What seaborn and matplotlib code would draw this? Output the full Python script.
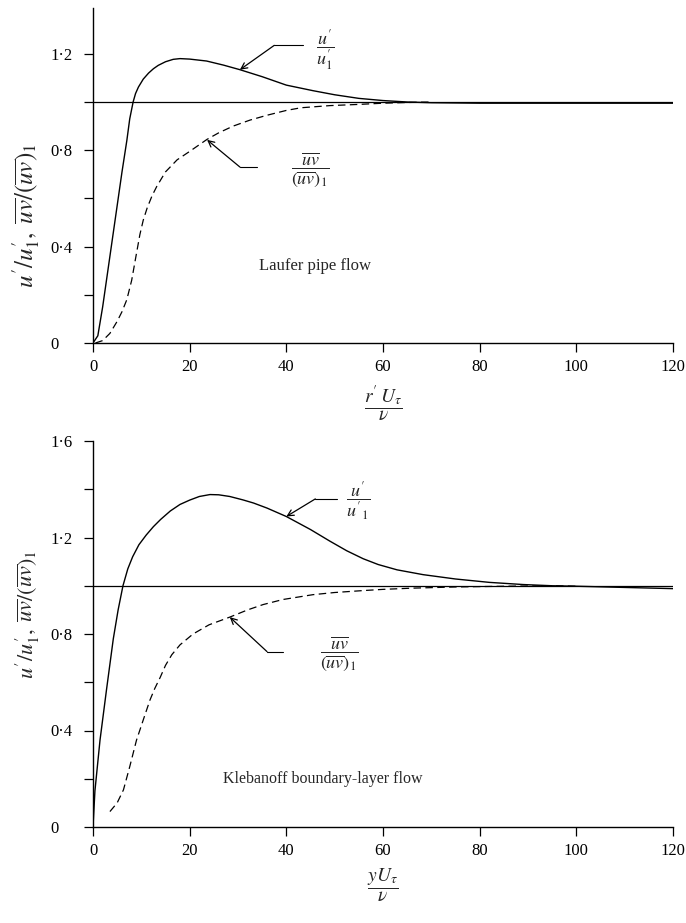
import numpy as np
import pandas as pd
import matplotlib
matplotlib.use("Agg")
import matplotlib.pyplot as plt
import seaborn as sns
from matplotlib.ticker import FixedLocator, FuncFormatter

# ---------------- data ----------------
# Laufer pipe flow (top panel)
x_u_top = [0, 1, 2, 3, 4, 5, 6, 7, 7.6, 8.3, 8.8, 9.4, 10.4, 11.5, 12.5, 13.5, 15, 16.6,
           18, 20, 23.5, 27, 30.4, 35, 40, 45.5, 50, 55, 60, 65, 70, 80, 90, 100, 110, 120]
y_u_top = [0, 0.03, 0.15, 0.29, 0.43, 0.57, 0.71, 0.84, 0.93, 1.0, 1.035, 1.062, 1.095,
           1.12, 1.138, 1.152, 1.167, 1.177, 1.18, 1.178, 1.17, 1.153, 1.134, 1.105, 1.07,
           1.047, 1.03, 1.015, 1.006, 1.0, 0.997, 0.995, 0.995, 0.995, 0.995, 0.995]

x_uv_top = [0.5, 2, 3.5, 5, 6, 7, 8, 8.8, 9.7, 10.4, 11.2, 12.2, 13.2, 15, 17.4, 20, 23.6,
            26, 29, 32.5, 36, 40, 43, 49, 55, 60, 65, 70]
y_uv_top = [0.0, 0.01, 0.04, 0.09, 0.13, 0.18, 0.26, 0.35, 0.45, 0.51, 0.56, 0.61, 0.65,
            0.71, 0.76, 0.795, 0.845, 0.872, 0.90, 0.925, 0.945, 0.965, 0.976, 0.985, 0.99,
            0.995, 0.998, 1.0]

# Klebanoff boundary-layer flow (bottom panel)
x_u_bot = [0, 0.4, 1.45, 2.8, 4.2, 5.2, 6.2, 7.2, 8.2, 9.5, 11, 12.5, 14, 16, 18, 20, 22,
           24.2, 26, 28.3, 31, 33.2, 36, 40, 45, 49, 52.5, 55.9, 59, 62.9, 68.3, 75, 82,
           89, 95, 100, 110, 120]
y_u_bot = [0, 0.15, 0.36, 0.57, 0.78, 0.9, 1.0, 1.07, 1.12, 1.17, 1.21, 1.245, 1.275,
           1.31, 1.337, 1.355, 1.37, 1.378, 1.377, 1.37, 1.356, 1.343, 1.322, 1.287,
           1.233, 1.185, 1.145, 1.112, 1.088, 1.066, 1.046, 1.028, 1.014, 1.005, 1.0,
           0.998, 0.993, 0.988]

x_uv_bot = [3.5, 5, 6.3, 7.6, 9, 10.5, 11.8, 12.8, 13.9, 15, 16.3, 18, 20.7, 24, 28.3, 32,
            35.2, 39.3, 45.5, 50, 55.9, 60, 66, 75, 85, 95, 100]
y_uv_bot = [0.064, 0.10, 0.154, 0.25, 0.36, 0.45, 0.527, 0.575, 0.62, 0.67, 0.714, 0.755,
            0.80, 0.838, 0.87, 0.9, 0.922, 0.943, 0.963, 0.972, 0.98, 0.985, 0.99, 0.995,
            0.998, 1.0, 0.998]

x_ticks = [0, 20, 40, 60, 80, 100, 120]
y_ticks_top = [0, 0.4, 0.8, 1.2]
y_ticks_bot = [0, 0.4, 0.8, 1.2, 1.6]
y_minor = [0.2, 0.6, 1.0, 1.4]
ref_level = 1.0

# ---------------- style ----------------
sns.set_style("ticks")
plt.rcParams["font.family"] = ["Liberation Serif", "DejaVu Serif"]
plt.rcParams["mathtext.fontset"] = "stix"
plt.rcParams["axes.linewidth"] = 1.0

fig = plt.figure(figsize=(6.86, 9.23), dpi=100)
W, H = 686.0, 923.0
ax1 = fig.add_axes([93 / W, 1 - 343 / H, 580 / W, 335 / H])
ax2 = fig.add_axes([93 / W, 1 - 827 / H, 580 / W, 386 / H])

dash = (0, (6, 3.5))


def fmt(v, pos):
    if abs(v) < 1e-9:
        return "0"
    return ("%.1f" % v).replace(".", "\u00b7")


def style_axes(ax, ymax, yt):
    ax.set_xlim(0, 120)
    ax.set_ylim(0, ymax)
    sns.despine(ax=ax)
    ax.xaxis.set_major_locator(FixedLocator(x_ticks))
    ax.yaxis.set_major_locator(FixedLocator(yt))
    ax.yaxis.set_minor_locator(FixedLocator([m for m in y_minor if m < ymax]))
    ax.yaxis.set_major_formatter(FuncFormatter(fmt))
    ax.tick_params(axis="both", which="both", direction="out", length=6.5, width=0.9,
                   labelsize=12, colors="black")
    ax.tick_params(axis="x", pad=5)
    ax.tick_params(axis="y", pad=24)
    for lab in ax.get_yticklabels():
        lab.set_horizontalalignment("left")
    ax.set_xlabel("")
    ax.set_ylabel("")
    for sp in ax.spines.values():
        sp.set_color("black")
    ax.axhline(ref_level, color="black", lw=0.9)


df1 = pd.DataFrame({"x": x_u_top, "y": y_u_top})
df2 = pd.DataFrame({"x": x_uv_top, "y": y_uv_top})
df3 = pd.DataFrame({"x": x_u_bot, "y": y_u_bot})
df4 = pd.DataFrame({"x": x_uv_bot, "y": y_uv_bot})

sns.lineplot(data=df1, x="x", y="y", ax=ax1, color="black", lw=1.0, sort=False)
sns.lineplot(data=df2, x="x", y="y", ax=ax1, color="black", lw=0.9, sort=False,
             linestyle=dash)
sns.lineplot(data=df3, x="x", y="y", ax=ax2, color="black", lw=1.0, sort=False)
sns.lineplot(data=df4, x="x", y="y", ax=ax2, color="black", lw=0.9, sort=False,
             linestyle=dash)

style_axes(ax1, 1.39, y_ticks_top)
style_axes(ax2, 1.6, y_ticks_bot)

ylab = r"$u^{\prime}/u^{\prime}_1,\;\overline{uv}/(\overline{uv})_1$"
ax1.set_ylabel(ylab, fontsize=18)
ax1.yaxis.set_label_coords(-0.088, 0.38)
ax2.set_ylabel(ylab, fontsize=16)
ax2.yaxis.set_label_coords(-0.088, 0.55)

ax1.set_xlabel(r"$\dfrac{r^{\prime}\,U_\tau}{\nu}$", fontsize=14, labelpad=6)
ax2.set_xlabel(r"$\dfrac{yU_\tau}{\nu}$", fontsize=14, labelpad=6)

arrow_kw = dict(arrowstyle="->", color="black", lw=0.9, shrinkA=0, shrinkB=0,
                mutation_scale=11)

# annotations: top panel
ax1.annotate("", xy=(30.4, 1.134), xytext=(37.5, 1.235), arrowprops=arrow_kw)
ax1.plot([37.5, 43.5], [1.235, 1.235], color="black", lw=0.8)
ax1.text(48.0, 1.215, r"$\dfrac{u^{\prime}}{u_1^{\prime}}$", fontsize=13,
         ha="center", va="center")

ax1.annotate("", xy=(23.6, 0.843), xytext=(30.4, 0.73), arrowprops=arrow_kw)
ax1.plot([30.4, 34.0], [0.73, 0.73], color="black", lw=0.8)
ax1.text(45.0, 0.72, r"$\dfrac{\overline{uv}}{(\overline{uv})_1}$", fontsize=13,
         ha="center", va="center")

ax1.text(46.0, 0.32, "Laufer pipe flow", fontsize=12, ha="center", va="center")

# annotations: bottom panel
ax2.annotate("", xy=(40.0, 1.287), xytext=(46.0, 1.36), arrowprops=arrow_kw)
ax2.plot([46.0, 50.5], [1.36, 1.36], color="black", lw=0.8)
ax2.text(54.8, 1.355, r"$\dfrac{u^{\prime}}{u^{\prime}{}_1}$", fontsize=13,
         ha="center", va="center")

ax2.annotate("", xy=(28.3, 0.87), xytext=(36.0, 0.727), arrowprops=arrow_kw)
ax2.plot([36.0, 39.3], [0.727, 0.727], color="black", lw=0.8)
ax2.text(51.0, 0.72, r"$\dfrac{\overline{uv}}{(\overline{uv})_1}$", fontsize=13,
         ha="center", va="center")

ax2.text(47.5, 0.2, "Klebanoff boundary-layer flow", fontsize=11.5, ha="center",
         va="center")

fig.savefig("out.png", dpi=100, facecolor="white")
